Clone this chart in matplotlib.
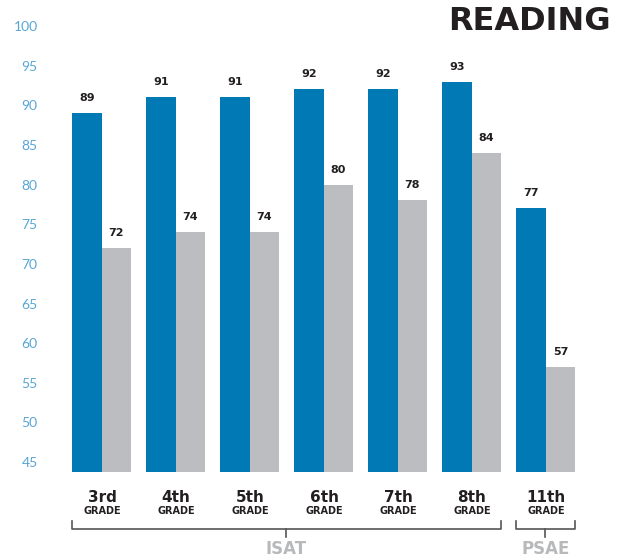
import matplotlib
matplotlib.use('Agg')
import matplotlib.pyplot as plt
import matplotlib.transforms as mtransforms

plt.rcParams['font.family'] = ['DejaVu Sans']

# data
grades = ['3rd', '4th', '5th', '6th', '7th', '8th', '11th']
district = [89, 91, 91, 92, 92, 93, 77]
state = [72, 74, 74, 80, 78, 84, 57]
yticks = list(range(45, 101, 5))

blue = '#0079b5'
grey = '#bcbdc0'
dark = '#231f20'
tickc = '#58a6d6'
labelgrey = '#b8b9bb'

W, H = 628, 559
fig = plt.figure(figsize=(W / 100, H / 100), dpi=100)
# axes: left 48px, bottom at 472px from top
ax = fig.add_axes([48 / W, (H - 472) / H, (W - 48) / W, 472 / H])
base = 43.75
ax.set_ylim(base, 103.28)
ax.set_xlim(-0.7297, 7.108)

x = list(range(len(grades)))
bw = 0.405
ax.bar([i - bw for i in x], [d - base for d in district], bottom=base, width=bw,
       align='edge', color=blue)
ax.bar(x, [s - base for s in state], bottom=base, width=0.39, align='edge', color=grey)

for i in x:
    ax.annotate(str(district[i]), (i - bw / 2, district[i]), xytext=(0, 10),
                textcoords='offset pixels', ha='center', va='bottom',
                fontsize=8, fontweight='bold', color=dark)
    ax.annotate(str(state[i]), (i + 0.195, state[i]), xytext=(0, 10),
                textcoords='offset pixels', ha='center', va='bottom',
                fontsize=8, fontweight='bold', color=dark)

ax.set_yticks(yticks)
ax.tick_params(axis='y', length=0, pad=7.5, labelsize=10, labelcolor=tickc)
for t in ax.get_yticklabels():
    t.set_family(['Lato', 'DejaVu Sans'])
ax.set_xticks([])
for s in ax.spines.values():
    s.set_visible(False)

# blended transform: x in data, y in pixels from top
def ypx(p):
    return 1 - p / H

tr = mtransforms.blended_transform_factory(ax.transData, fig.transFigure)

for i in x:
    ax.text(i, ypx(498), grades[i], transform=tr, ha='center', va='center',
            fontsize=11, fontweight='bold', color=dark)
    ax.text(i, ypx(511), 'GRADE', transform=tr, ha='center', va='center',
            fontsize=7, fontweight='bold', color=dark)

# brackets
def bracket(x0, x1, label):
    xm = (x0 + x1) / 2
    kw = dict(transform=tr, color='#555555', lw=1.2, clip_on=False)
    ax.plot([x0, x0, x1, x1], [ypx(521), ypx(529), ypx(529), ypx(521)], **kw)
    ax.plot([xm, xm], [ypx(529), ypx(537)], **kw)
    ax.text(xm, ypx(549), label, transform=tr, ha='center', va='center',
            fontsize=12, fontweight='bold', color=labelgrey)

bracket(-bw, 5 + 0.39, 'ISAT')
bracket(6 - bw, 6 + 0.39, 'PSAE')

fig.text(611 / W, ypx(22), 'READING', ha='right', va='center',
         fontsize=23, fontweight='bold', color=dark)

fig.savefig('out.png', dpi=100)
